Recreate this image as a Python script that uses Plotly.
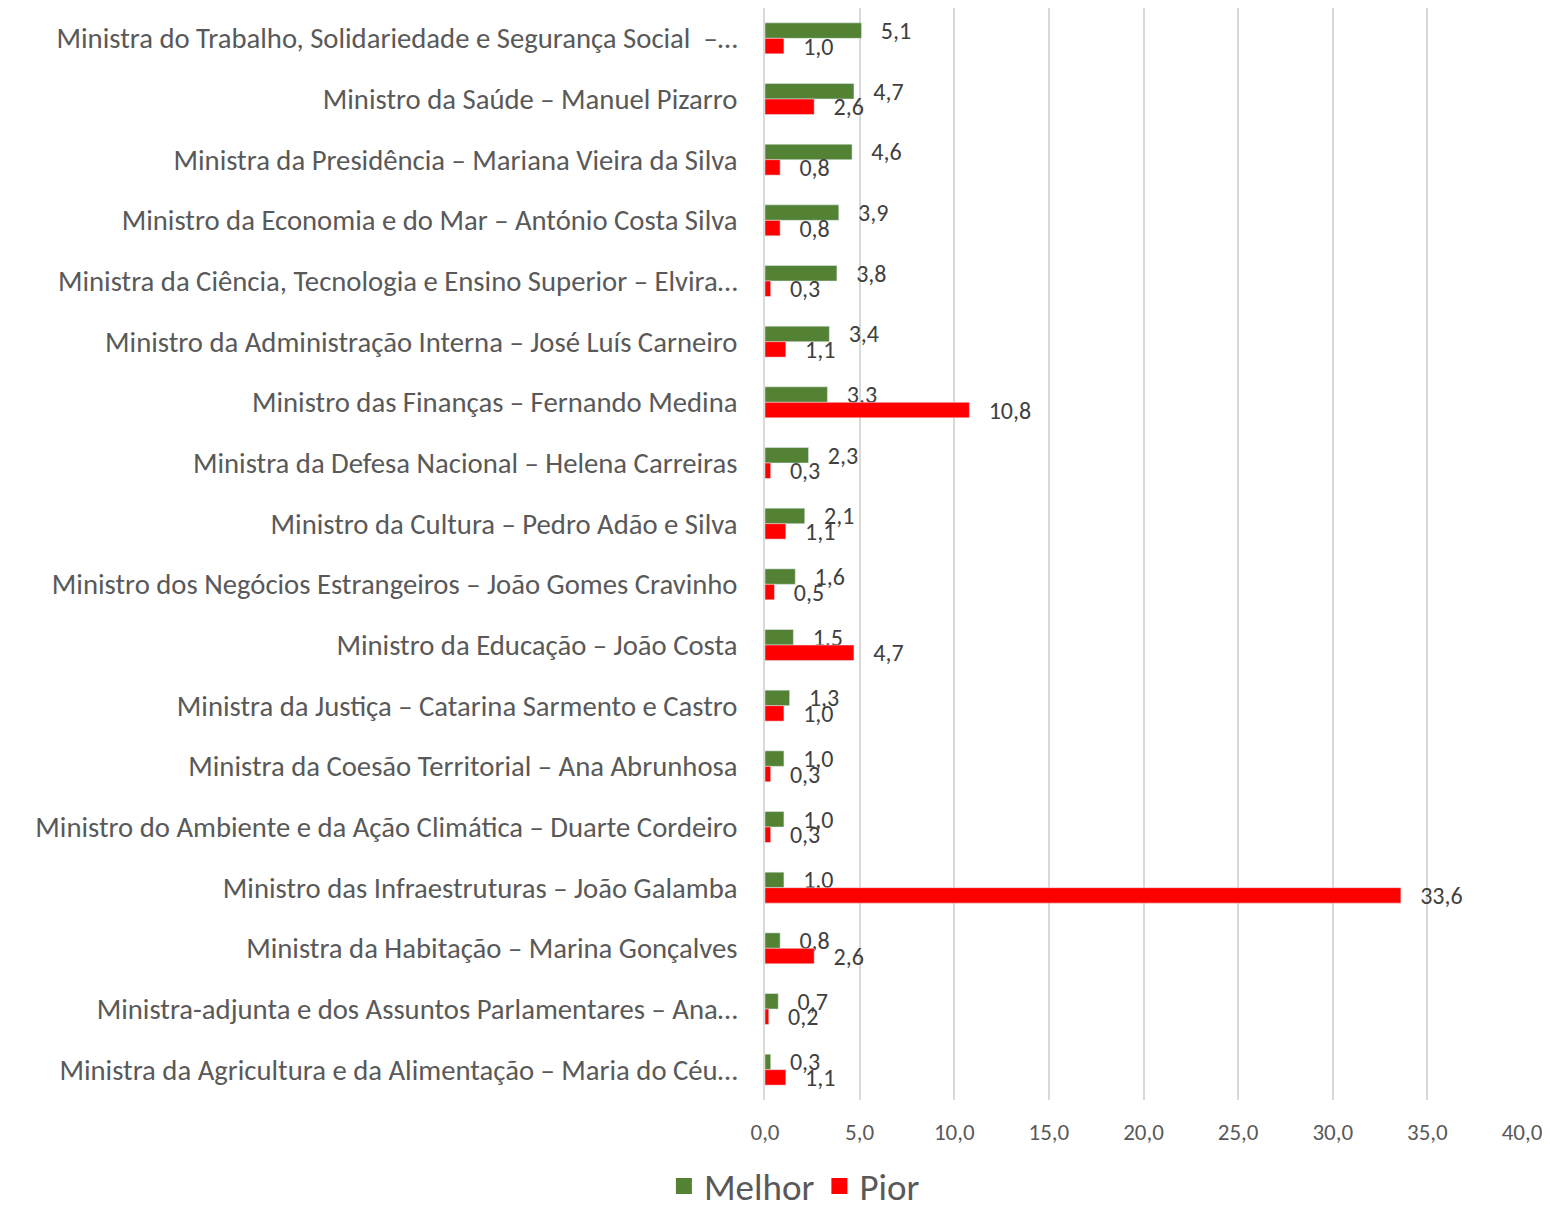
import plotly.graph_objects as go

categories = [
    "Ministra do Trabalho, Solidariedade e Segurança Social  –…",
    "Ministro da Saúde – Manuel Pizarro",
    "Ministra da Presidência – Mariana Vieira da Silva",
    "Ministro da Economia e do Mar – António Costa Silva",
    "Ministra da Ciência, Tecnologia e Ensino Superior – Elvira…",
    "Ministro da Administração Interna – José Luís Carneiro",
    "Ministro das Finanças – Fernando Medina",
    "Ministra da Defesa Nacional – Helena Carreiras",
    "Ministro da Cultura – Pedro Adão e Silva",
    "Ministro dos Negócios Estrangeiros – João Gomes Cravinho",
    "Ministro da Educação – João Costa",
    "Ministra da Justiça – Catarina Sarmento e Castro",
    "Ministra da Coesão Territorial – Ana Abrunhosa",
    "Ministro do Ambiente e da Ação Climática – Duarte Cordeiro",
    "Ministro das Infraestruturas – João Galamba",
    "Ministra da Habitação – Marina Gonçalves",
    "Ministra-adjunta e dos Assuntos Parlamentares – Ana…",
    "Ministra da Agricultura e da Alimentação – Maria do Céu…",
]
melhor = [5.1, 4.7, 4.6, 3.9, 3.8, 3.4, 3.3, 2.3, 2.1, 1.6, 1.5, 1.3, 1.0, 1.0, 1.0, 0.8, 0.7, 0.3]
pior = [1.0, 2.6, 0.8, 0.8, 0.3, 1.1, 10.8, 0.3, 1.1, 0.5, 4.7, 1.0, 0.3, 0.3, 33.6, 2.6, 0.2, 1.1]
x_ticks = [0, 5, 10, 15, 20, 25, 30, 35, 40]
series_names = ["Melhor", "Pior"]
series_colors = ["#548235", "#FF0000"]

FONT = "Carlito, Calibri, Liberation Sans Narrow, Noto Sans, sans-serif"
TXT = "#595959"
LBL = "#404040"

fig = go.Figure()
for name, vals, color in zip(series_names, [melhor, pior], series_colors):
    fig.add_trace(go.Bar(
        y=categories, x=vals, name=name, orientation="h",
        marker=dict(color=color), showlegend=False,
        texttemplate="   %{x:.1f}", textposition="outside", constraintext="none",
        textfont=dict(size=24, color=LBL, family=FONT), cliponaxis=False,
    ))
# legend entries with larger square swatches
for name, color in zip(series_names, series_colors):
    fig.add_trace(go.Scatter(
        x=[None], y=[None], mode="markers", name=name,
        marker=dict(symbol="square", size=20, color=color),
    ))

fig.update_layout(
    width=1542, height=1199,
    barmode="group", bargap=0.49, bargroupgap=0,
    separators=", ",
    plot_bgcolor="white", paper_bgcolor="white",
    font=dict(family=FONT, color=TXT),
    margin=dict(l=757, r=28, t=0, b=107),
    legend=dict(orientation="h", xref="container", x=0.51, xanchor="center",
                yref="container", y=0.043, yanchor="top",
                font=dict(size=37, color=TXT, family=FONT), traceorder="normal",
                itemwidth=30),
    xaxis=dict(range=[0, 40], tickvals=x_ticks, tickformat=".1f",
               showgrid=True, gridcolor="#D9D9D9", gridwidth=1.5,
               zeroline=False, showline=False, automargin=False,
               tickfont=dict(size=23, color=TXT, family=FONT), ticklabelstandoff=16),
    yaxis=dict(autorange="reversed", showgrid=False, showline=True,
               linecolor="#D9D9D9", linewidth=1.5, automargin=False,
               tickfont=dict(size=28.7, color=TXT, family=FONT), ticklabelstandoff=20),
)

fig.write_html("out.html")
